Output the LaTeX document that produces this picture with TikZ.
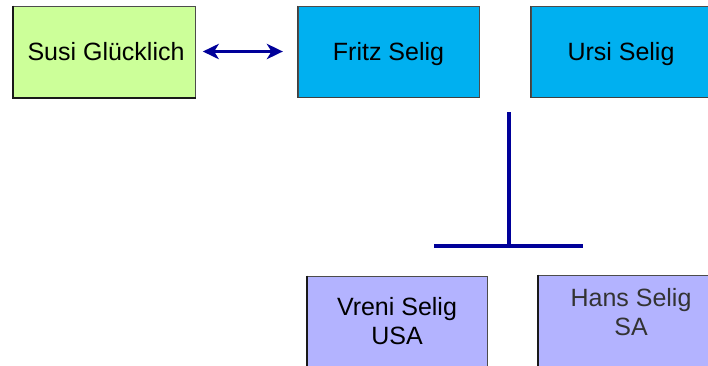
\documentclass[tikz,border=0pt]{standalone}
\usepackage{fontspec}
\setmainfont{Liberation Sans}
\usetikzlibrary{arrows.meta}
\definecolor{susigreen}{HTML}{CCFF99}
\definecolor{seligblue}{HTML}{00B0F0}
\definecolor{kidlilac}{HTML}{B3B3FF}
\definecolor{navyline}{HTML}{000099}
\begin{document}
\begin{tikzpicture}[x=0.75pt,y=-0.75pt,
  box/.style={draw=black!70, line width=0.75pt, rectangle, inner sep=0pt,
    minimum width=135pt, minimum height=68.25pt, align=center,
    font=\fontsize{18.75}{21.75}\selectfont},
  onerow/.style={text height=13.4pt, text depth=0pt},
  txt/.style={inner sep=0pt, align=center, font=\fontsize{18.75}{21.75}\selectfont},
  edge/.style={draw=black!90, line width=1.5pt},
  link/.style={draw=navyline, line width=2.3pt},
  dblarrow/.style={draw=navyline, line width=2.4pt,
    {Stealth[length=12pt,width=11.5pt,inset=3.5pt]}-{Stealth[length=12pt,width=11.5pt,inset=3.5pt]}}]
\useasboundingbox (0,0) rectangle (708,365);
\clip (0,0) rectangle (708,365);
% parents and partner
\node[box, onerow, fill=susigreen, minimum width=136.5pt] (susi) at (104,51.5) {\hspace*{3pt}Susi Glücklich};
\node[box, onerow, fill=seligblue, minimum width=135.75pt] (fritz) at (388.5,51.5) {Fritz Selig};
\node[box, onerow, fill=seligblue] (ursi) at (621,51.5) {Ursi Selig};
% children
\node[box, fill=kidlilac] (vreni) at (397,321.5) {Vreni Selig\\USA};
\node[box, fill=kidlilac] (hans) at (628,320.5) {};
\node[txt, text=black!80] (hanstext) at (631,312) {Hans Selig\\SA};
% shadow-like darker edges
\draw[edge] (susi.north west) -- (susi.south west) -- (susi.south east);
\draw[edge, draw=black!75, line width=1.1pt] (fritz.north west) -- (fritz.south west) -- (fritz.south east);
\draw[edge, draw=black!75, line width=1.1pt] (ursi.north west) -- (ursi.south west) -- (ursi.south east);
\draw[edge] (vreni.north west) -- (vreni.south west);
\draw[edge] (hans.north west) -- (hans.south west);
% connectors
\draw[dblarrow, shorten <=5.5pt, shorten >=11pt] (susi.east) -- (fritz.west);
\coordinate (stemtop) at (509,112);
\coordinate (junction) at (509,246);
\coordinate (barleft) at (434,246);
\coordinate (barright) at (583,246);
\draw[link] (stemtop) -- (junction);
\draw[link] (barleft) -- (barright);
\end{tikzpicture}
\end{document}
